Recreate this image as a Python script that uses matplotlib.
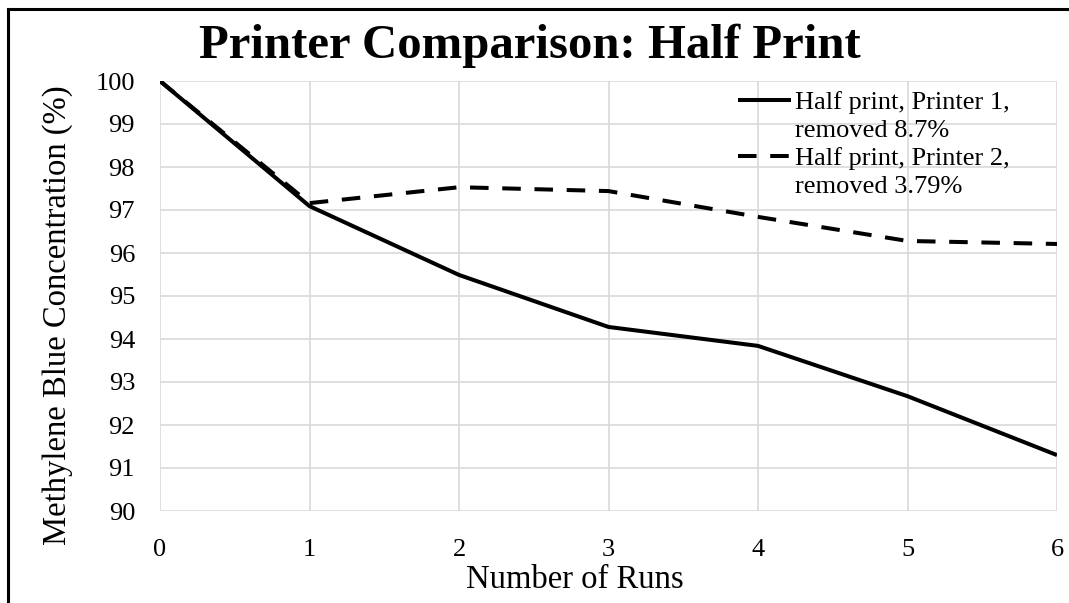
import matplotlib
matplotlib.use("Agg")
import matplotlib.pyplot as plt
from matplotlib.lines import Line2D

plt.rcParams['font.family'] = ['Liberation Serif', 'DejaVu Serif']

runs = [0, 1, 2, 3, 4, 5, 6]
printer1 = [100.0, 97.09, 95.49, 94.28, 93.84, 92.67, 91.30]
printer2 = [100.0, 97.16, 97.53, 97.44, 96.84, 96.28, 96.21]
label1 = ["Half print, Printer 1,", "removed 8.7%"]
label2 = ["Half print, Printer 2,", "removed 3.79%"]
x_ticks = [0, 1, 2, 3, 4, 5, 6]
y_ticks = [90, 91, 92, 93, 94, 95, 96, 97, 98, 99, 100]

W, H = 1069, 603
fig = plt.figure(figsize=(W / 100, H / 100), dpi=100)
ax = fig.add_axes([160 / W, 1 - 511 / H, (1057 - 160) / W, (511 - 81) / H])

lw = 2.9
h1, = ax.plot(runs, printer1, color='black', lw=lw, solid_capstyle='butt', zorder=3)
h2, = ax.plot(runs, printer2, color='black', lw=lw, linestyle=(0, (4.6, 3.4)),
              dash_capstyle='butt', zorder=3)

ax.set_xlim(0, 6)
ax.set_ylim(90, 100)
ax.set_xticks(x_ticks)
ax.set_yticks(y_ticks)
ax.tick_params(axis='both', length=0, labelsize=19)
ax.tick_params(axis='y', pad=18)
ax.tick_params(axis='x', pad=20)
ax.grid(True, color='#d9d9d9', lw=1.2)
ax.set_axisbelow(True)
for s in ax.spines.values():
    s.set_visible(False)

# axis titles
fig.text(575 / W, 1 - 580 / H, "Number of Runs", ha='center', va='center', fontsize=23.5)
fig.text(58 / W, 1 - 315 / H, "Methylene Blue Concentration (%)", ha='center', va='center',
         rotation=90, fontsize=23.5)

blank = Line2D([], [], color='none')
leg = ax.legend([h1, blank, h2, blank], label1 + label2,
                loc='upper left', bbox_to_anchor=((738 - 160) / 897, 1 - (91 - 81) / 430),
                frameon=False, fontsize=19, handlelength=2.0, handletextpad=0.15,
                labelspacing=0.17, borderaxespad=0, borderpad=0)
leg.set_zorder(5)

fig.text(530 / W, 1 - 46 / H, "Printer Comparison: Half Print", ha='center', va='center',
         fontsize=35.1, fontweight='bold')

# outer frame: top and left edges
fig.add_artist(Line2D([7.5 / W, 1.0], [1 - 9 / H, 1 - 9 / H], color='black', lw=2.2))
fig.add_artist(Line2D([7.5 / W, 7.5 / W], [0.0, 1 - 9 / H], color='black', lw=2.2))

fig.savefig("out.png", dpi=100)
